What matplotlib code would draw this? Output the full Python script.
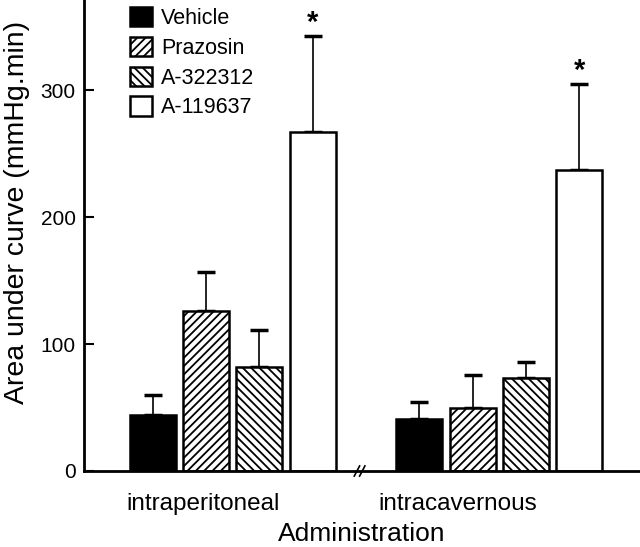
import matplotlib.pyplot as plt
from matplotlib.patches import Patch

plt.rcParams['font.family'] = ['Liberation Sans', 'DejaVu Sans']
plt.rcParams['hatch.linewidth'] = 1.3

# --- Data ---
groups = ["intraperitoneal", "intracavernous"]
treatments = ["Vehicle", "Prazosin", "A-322312", "A-119637"]
means_ip = [44, 126, 82, 267]
errs_ip = [16, 31, 29, 76]
means_ic = [41, 50, 73, 237]
errs_ic = [13, 26, 13, 68]
signif = [False, False, False, True]  # asterisk above bar

faces = ["black", "white", "white", "white"]
hatches = [None, "////", "\\\\\\\\", None]

fig = plt.figure(figsize=(6.4, 5.47), dpi=100)
ax = fig.add_axes([84/640, 76/547, 556/640, 471/547])

w = 0.86
group_start = [0, 5]
for g, (means, errs) in enumerate([(means_ip, errs_ip), (means_ic, errs_ic)]):
    for i in range(4):
        x = group_start[g] + i
        ax.bar(x, means[i], w, color=faces[i], edgecolor="black", linewidth=1.8,
               hatch=hatches[i], zorder=2)
        ax.errorbar(x, means[i], yerr=[[0], [errs[i]]], fmt="none", ecolor="black",
                    elinewidth=1.2, capsize=6.5, capthick=2.5, zorder=1)
        if signif[i]:
            ax.text(x, means[i] + errs[i] - 1, "*", ha="center", va="bottom",
                    fontsize=21, fontweight="bold")

ax.set_xlim(-1.29, 9.14)
ax.set_ylim(0, 371)
ax.set_yticks([0, 100, 200, 300])
ax.tick_params(axis="y", direction="in", length=7, width=1.5, labelsize=15, pad=6)

# group labels, placed a bit left of the group centres as in the figure
ax.set_xticks([0.94, 5.72])
ax.set_xticklabels(groups, fontsize=17.5)
ax.tick_params(axis="x", length=0, pad=16)

for s in ["top", "right"]:
    ax.spines[s].set_visible(False)
ax.spines["left"].set_linewidth(2)
ax.spines["bottom"].set_linewidth(2)

# axis break marks on the x axis
xb = 3.88
for dx in (-0.05, 0.05):
    ax.plot([xb + dx - 0.05, xb + dx + 0.05], [-4, 4], color="black", lw=1.2,
            clip_on=False, zorder=6)

ax.set_ylabel("Area under curve (mmHg.min)", fontsize=20.5)
ax.yaxis.set_label_coords(-0.097, 0.55)
ax.set_xlabel("Administration", fontsize=19, labelpad=5)

handles = [Patch(facecolor=faces[i], edgecolor="black", linewidth=1.8, hatch=hatches[i])
           for i in range(4)]
ax.legend(handles, treatments, loc="upper left", bbox_to_anchor=(0.083, 0.985),
          frameon=False, fontsize=15.5, handlelength=1.0, handleheight=1.0,
          labelspacing=0.36, handletextpad=0.45, borderaxespad=0, borderpad=0)

fig.savefig("out.png", dpi=100)
